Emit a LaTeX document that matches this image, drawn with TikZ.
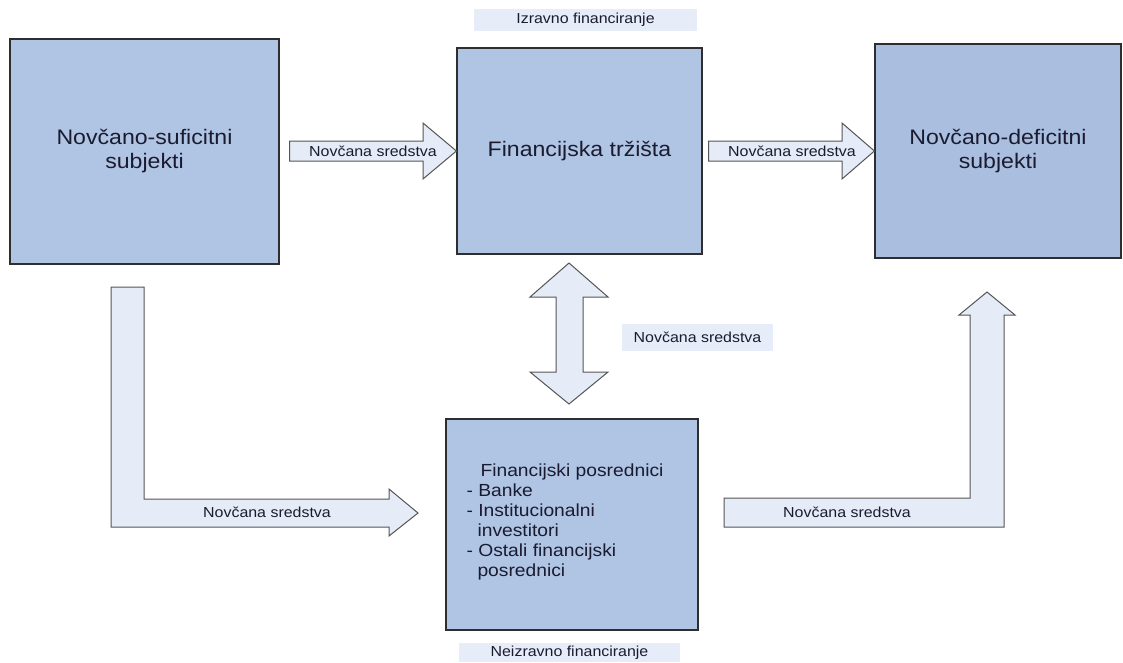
\documentclass[tikz,border=0pt]{standalone}
\usepackage{fontspec}
\setmainfont{Liberation Sans}[FakeStretch=1.1]
\usetikzlibrary{calc}
\definecolor{boxfill}{HTML}{B0C4E4}
\definecolor{boxfillb}{HTML}{AABEE0}
\definecolor{arrfill}{HTML}{E5ECF7}
\definecolor{lblfill}{HTML}{E6EDF8}
\definecolor{edgecol}{HTML}{2E2E2E}
\definecolor{arredge}{HTML}{555555}
\definecolor{txt}{HTML}{1B1B30}
\begin{document}
\begin{tikzpicture}[x=1pt,y=-1pt,
 bigbox/.style={draw=edgecol,line width=1.2pt,fill=boxfill,inner sep=0pt,text=txt,align=center,font=\fontsize{21}{24}\selectfont},
 blockarrow/.style={draw=arredge,line width=1pt,fill=arrfill,line join=miter},
 lbl/.style={fill=lblfill,inner sep=0pt,text=txt,font=\fontsize{14.5}{17}\selectfont},
 arrlbl/.style={text=txt,inner sep=0pt,font=\fontsize{14.5}{17}\selectfont}]
\useasboundingbox (0,0) rectangle (1123,662);

% boxes
\node[bigbox,minimum width=269pt,minimum height=225pt] (b1) at (144.5,151.5) {Novčano-suficitni\\subjekti};
\node[bigbox,minimum width=245pt,minimum height=206pt] (b2) at (579.5,151) {Financijska tržišta};
\node[bigbox,fill=boxfillb,minimum width=246pt,minimum height=214pt] (b3) at (998,151) {Novčano-deficitni\\subjekti};
\node[bigbox,minimum width=252pt,minimum height=211pt] (b4) at (572,524.5) {};
\node[text=txt,align=left,inner sep=0pt,font=\fontsize{17.5}{20}\selectfont] (b4t) at (565,522)
 {\hspace*{14pt}Financijski posrednici\\- Banke\\- Institucionalni\\\hspace*{11pt}investitori\\- Ostali financijski\\\hspace*{11pt}posrednici};

% labels
\node[lbl,minimum width=223pt,minimum height=22pt] (izr) at (585.5,20) {Izravno financiranje};
\node[lbl,minimum width=221pt,minimum height=19pt] (neiz) at (569.5,652.5) {Neizravno financiranje};
\node[lbl,minimum width=151pt,minimum height=27pt] (mid) at (697.5,337.5) {Novčana sredstva};

% arrow 1: b1 -> b2
\draw[blockarrow] ($(b1.east)+(10,-10.5)$) -- (423,141) -- (423,123) -- (b2.west) -- (423,179) -- (423,161) -- ($(b1.east)+(10,9.5)$) -- cycle;
\node[arrlbl] (a1) at (373,151) {Novčana sredstva};

% arrow 2: b2 -> b3
\draw[blockarrow] ($(b2.east)+(6,-10)$) -- (842,141) -- (842,123) -- (b3.west) -- (842,179) -- (842,161) -- ($(b2.east)+(6,10)$) -- cycle;
\node[arrlbl] (a2) at (792,151) {Novčana sredstva};

% double arrow b2 <-> b4
\coordinate (dtop) at (569,263);
\coordinate (dbot) at (569,404);
\draw[blockarrow] (dtop) -- (608,297) -- (583,297) -- (583,372) -- (608,372) -- (dbot) -- (530,372) -- (556,372) -- (556,297) -- (530,297) -- cycle;

% L arrow b1 -> b4
\coordinate (ltip) at (418,513);
\draw[blockarrow] (111,287) -- (144,287) -- (144,499) -- (389,499) -- (389,489) -- (ltip) -- (389,536) -- (389,527) -- (111,527) -- cycle;
\node[arrlbl] (a3) at (267,512) {Novčana sredstva};

% L arrow b4 -> b3
\coordinate (rtip) at (987,292);
\draw[blockarrow] (724,498) -- (970,498) -- (970,315) -- (959,315) -- (rtip) -- (1015,315) -- (1004,315) -- (1004,527) -- (724,527) -- cycle;
\node[arrlbl] (a4) at (847,512) {Novčana sredstva};
\end{tikzpicture}
\end{document}
